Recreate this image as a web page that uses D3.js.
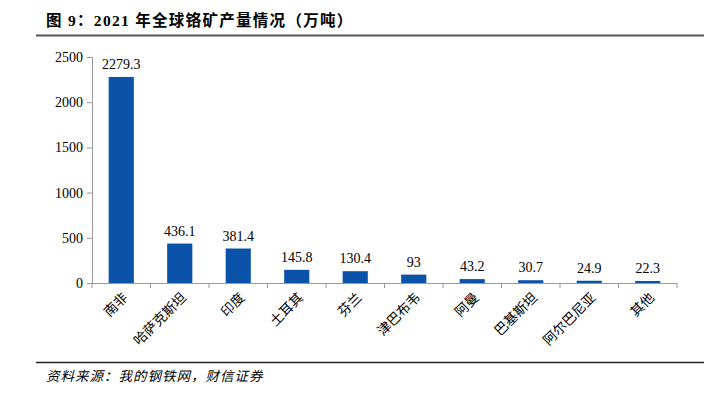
<!DOCTYPE html>
<html>
<head>
<meta charset="utf-8">
<style>
html, body { margin: 0; padding: 0; background: #fff; }
svg { display: block; }
.serif { font-family: "Times New Roman", "Liberation Serif", "Noto Sans CJK SC", serif; }
</style>
</head>
<body>
<div id="chart"></div>
<script src="https://cdn.jsdelivr.net/npm/d3@7/dist/d3.min.js"></script>
<script>
var countries = ["南非", "哈萨克斯坦", "印度", "土耳其", "芬兰", "津巴布韦", "阿曼", "巴基斯坦", "阿尔巴尼亚", "其他"];
var output = [2279.3, 436.1, 381.4, 145.8, 130.4, 93, 43.2, 30.7, 24.9, 22.3];
var yTicks = [0, 500, 1000, 1500, 2000, 2500];

var W = 708, H = 403;
var svg = d3.select("#chart").append("svg")
  .attr("width", W).attr("height", H);

// title + rules
svg.append("text")
  .attr("class", "serif")
  .attr("x", 46).attr("y", 26)
  .attr("font-size", 15.5).attr("font-weight", "bold")
  .attr("letter-spacing", 1.3)
  .text("图 9：2021 年全球铬矿产量情况（万吨）");
svg.append("line")
  .attr("x1", 36).attr("x2", 704).attr("y1", 35.5).attr("y2", 35.5)
  .attr("stroke", "#555").attr("stroke-width", 2);
svg.append("line")
  .attr("x1", 36).attr("x2", 704).attr("y1", 362.5).attr("y2", 362.5)
  .attr("stroke", "#222").attr("stroke-width", 1.5);
svg.append("text")
  .attr("x", 46).attr("y", 381)
  .attr("font-size", 13.5).attr("font-style", "italic")
  .attr("letter-spacing", 1)
  .attr("font-family", "'Noto Sans CJK SC', sans-serif")
  .text("资料来源：我的钢铁网，财信证券");

var plotL = 92, plotR = 677, plotT = 57, plotB = 283;

var x = d3.scaleBand().domain(countries).range([plotL, plotR]).paddingInner(0.57).paddingOuter(0.285);
var y = d3.scaleLinear().domain([0, 2500]).range([plotB, plotT]);

// axes
var yAxis = svg.append("g")
  .attr("transform", "translate(" + plotL + ",0)")
  .call(d3.axisLeft(y).tickValues(yTicks).tickSize(5).tickPadding(4).tickFormat(d3.format("d")));
yAxis.select(".domain").attr("stroke", "#999");
yAxis.selectAll(".tick line").attr("stroke", "#999");
yAxis.selectAll("text").attr("class", "serif").attr("font-size", 14).attr("fill", "#000");

// bars
svg.selectAll("rect.bar")
  .data(output)
  .enter().append("rect")
  .attr("class", "bar")
  .attr("x", function (d, i) { return x(countries[i]); })
  .attr("width", x.bandwidth())
  .attr("y", function (d) { return y(d); })
  .attr("height", function (d) { return plotB - y(d); })
  .attr("fill", "#0a53a8");

// value labels
svg.selectAll("text.val")
  .data(output)
  .enter().append("text")
  .attr("class", "serif val")
  .attr("x", function (d, i) { return x(countries[i]) + x.bandwidth() / 2; })
  .attr("y", function (d) { return y(d) - 8; })
  .attr("text-anchor", "middle")
  .attr("font-size", 14)
  .text(function (d) { return d; });

// x axis
var step = x.step();
var xg = svg.append("g");
xg.append("line")
  .attr("x1", plotL).attr("x2", plotR).attr("y1", plotB + 0.5).attr("y2", plotB + 0.5)
  .attr("stroke", "#999");
xg.selectAll("line.tk")
  .data(d3.range(countries.length + 1))
  .enter().append("line")
  .attr("x1", function (i) { return plotL + i * step; })
  .attr("x2", function (i) { return plotL + i * step; })
  .attr("y1", plotB).attr("y2", plotB + 5)
  .attr("stroke", "#999");
xg.selectAll("text")
  .data(countries)
  .enter().append("text")
  .attr("class", "serif")
  .attr("font-size", 13.5)
  .attr("text-anchor", "end")
  .attr("transform", function (d) {
    var cx = x(d) + x.bandwidth() / 2 + 4;
    return "translate(" + cx + "," + (plotB + 12) + ") rotate(-45)";
  })
  .attr("dy", "0.35em")
  .text(function (d) { return d; });
</script>
</body>
</html>
